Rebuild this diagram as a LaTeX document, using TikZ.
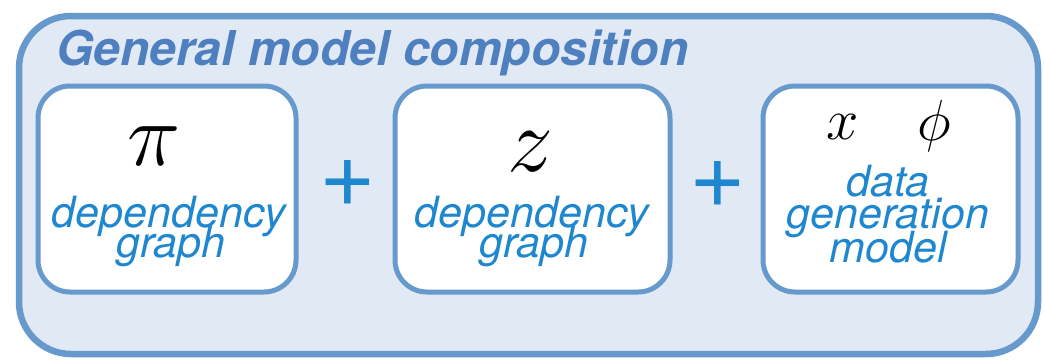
\RequirePackage{fix-cm}
\documentclass[tikz,border=0pt]{standalone}
\usepackage{fontspec}
\newfontfamily\heros{TeX Gyre Heros}
\definecolor{frameblue}{RGB}{102,153,204}
\definecolor{panelfill}{RGB}{225,233,244}
\definecolor{titleblue}{RGB}{78,127,190}
\definecolor{textblue}{RGB}{31,135,208}
\tikzset{
  outerframe/.style={draw=frameblue, fill=panelfill, line width=6.5pt, rounded corners=52pt},
  innerbox/.style={draw=frameblue, fill=white, line width=5pt, rounded corners=32pt},
  label/.style={anchor=base, inner sep=0pt, text=textblue, font=\heros\itshape\fontsize{43}{43}\selectfont},
  sym/.style={anchor=base, inner sep=0pt, text=black},
  plus/.style={inner sep=0pt, text=textblue, font=\heros\fontsize{97}{97}\selectfont},
  title/.style={anchor=base west, inner sep=0pt, text=titleblue, font=\heros\bfseries\itshape\fontsize{48}{48}\selectfont}
}
\begin{document}
\begin{tikzpicture}[x=1pt,y=-1pt]
\useasboundingbox (0,0) rectangle (1044,359);
\draw[outerframe] (19,16) rectangle (1038,354);
\node[title] (title) at (56,65) {General model composition};
\draw[innerbox] (38,86) rectangle (296,292);
\draw[innerbox] (395,86) rectangle (670,292);
\draw[innerbox] (763,86) rectangle (1018,292);
\node[sym] (pi) at (154,165) {\fontsize{90}{90}\selectfont$\pi$};
\node[sym] (z) at (530,171) {\fontsize{92}{92}\selectfont$z$};
\node[sym] (x) at (843,139) {\fontsize{58}{58}\selectfont$x$};
\node[sym] (phi) at (934,140) {\fontsize{58}{58}\selectfont$\phi$};
\node[label] (dep1) at (169,227) {dependency};
\node[label] (gr1) at (171,257) {graph};
\node[label] (dep2) at (532,227) {dependency};
\node[label] (gr2) at (534,257) {graph};
\node[label] (data) at (888,196) {data};
\node[label] (gen) at (888,228) {generation};
\node[label] (model) at (888,262) {model};
\node[plus] (plus1) at (347.5,184) {+};
\node[plus] (plus2) at (717.5,184.5) {+};
\end{tikzpicture}
\end{document}
